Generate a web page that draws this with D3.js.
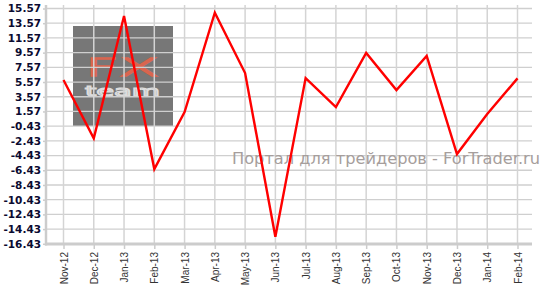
<!DOCTYPE html>
<html>
<head>
<meta charset="utf-8">
<script src="https://cdn.jsdelivr.net/npm/d3@7"></script>
<style>
  body { margin: 0; background: #fff; }
  svg { display: block; }
</style>
</head>
<body>
<div id="chart"></div>
<script>
const months = ["Nov-12", "Dec-12", "Jan-13", "Feb-13", "Mar-13", "Apr-13", "May-13", "Jun-13",
  "Jul-13", "Aug-13", "Sep-13", "Oct-13", "Nov-13", "Dec-13", "Jan-14", "Feb-14"];
const values = [5.84, -2.09, 14.55, -6.27, 1.49, 15.0, 6.79, -15.48,
  6.11, 2.17, 9.52, 4.48, 9.11, -4.23, 1.22, 6.07];
const yTicks = [15.57, 13.57, 11.57, 9.57, 7.57, 5.57, 3.57, 1.57, -0.43, -2.43,
  -4.43, -6.43, -8.43, -10.43, -12.43, -14.43, -16.43];

const width = 547, height = 296;
const plotLeft = 46, plotRight = 532, plotTop = 5, plotBottom = 244;

const svg = d3.select("#chart").append("svg")
  .attr("width", width)
  .attr("height", height);

const x = d3.scalePoint().domain(months).range([63.5, 517.5]);
const y = d3.scaleLinear().domain([-16.43, 15.57]).range([243.8, 8.5]);

// logo box behind the grid
const logo = svg.append("g").attr("class", "logo");
logo.append("rect")
  .attr("x", 73).attr("y", 26).attr("width", 100).attr("height", 100)
  .attr("fill", "#777");
logo.append("text")
  .attr("x", 85).attr("y", 76)
  .attr("textLength", 74).attr("lengthAdjust", "spacingAndGlyphs")
  .style("font-family", "DejaVu Sans").style("font-size", "24px").style("font-weight", "200")
  .attr("fill", "none").attr("stroke", "#d9654f").attr("stroke-width", 1.4)
  .text("FX");
logo.append("text")
  .attr("x", 85).attr("y", 96)
  .attr("textLength", 75).attr("lengthAdjust", "spacingAndGlyphs")
  .style("font-family", "DejaVu Sans").style("font-size", "14px")
  .attr("fill", "none").attr("stroke", "#ddd").attr("stroke-width", 1.1)
  .text("team");

// grid
svg.append("g")
  .selectAll("line")
  .data(yTicks)
  .join("line")
  .attr("x1", plotLeft).attr("x2", plotRight)
  .attr("y1", d => y(d)).attr("y2", d => y(d))
  .attr("stroke", "#cfcfcf").attr("stroke-width", 1.3);

svg.append("g")
  .selectAll("line")
  .data(months)
  .join("line")
  .attr("x1", d => x(d)).attr("x2", d => x(d))
  .attr("y1", plotTop).attr("y2", plotBottom)
  .attr("stroke", "#d4d4d4").attr("stroke-width", 1.5);

// watermark
svg.append("text")
  .attr("x", 232).attr("y", 164)
  .attr("textLength", 308).attr("lengthAdjust", "spacingAndGlyphs")
  .style("font-family", "DejaVu Sans").style("font-size", "16px")
  .attr("fill", "#a69e9c")
  .text("Портал для трейдеров - ForTrader.ru");

// axes
const yAxis = d3.axisLeft(y).tickValues(yTicks).tickSize(3).tickPadding(2)
  .tickFormat(d => d.toFixed(2));
const gy = svg.append("g").attr("transform", `translate(${plotLeft},0)`).call(yAxis);
gy.select(".domain").remove();
gy.selectAll(".tick line").attr("stroke", "#ccc").attr("stroke-width", 1.5);
gy.selectAll(".tick text")
  .style("font-family", "DejaVu Sans").style("font-size", "10.5px").style("font-weight", "bold")
  .attr("fill", "#0a0a30");

const xAxis = d3.axisBottom(x).tickSize(5).tickPadding(0);
const gx = svg.append("g").attr("transform", `translate(0,${plotBottom})`).call(xAxis);
gx.select(".domain").remove();
gx.selectAll(".tick line").attr("stroke", "#ccc").attr("stroke-width", 1.5);
gx.selectAll(".tick text")
  .attr("transform", "rotate(-90)")
  .attr("x", -8).attr("y", 0).attr("dy", "0.35em")
  .attr("text-anchor", "end")
  .style("font-family", "Liberation Sans").style("font-size", "10px")
  .attr("fill", "#333");

svg.append("line")
  .attr("x1", plotLeft).attr("x2", plotLeft).attr("y1", plotTop).attr("y2", plotBottom + 1.5)
  .attr("stroke", "#ccc").attr("stroke-width", 2.5);
svg.append("line")
  .attr("x1", plotLeft - 1).attr("x2", plotRight).attr("y1", plotBottom).attr("y2", plotBottom)
  .attr("stroke", "#ccc").attr("stroke-width", 2.8);

// series
const line = d3.line().x((d, i) => x(months[i])).y(d => y(d));
svg.append("path")
  .datum(values)
  .attr("d", line)
  .attr("fill", "none")
  .attr("stroke", "#ff0000")
  .attr("stroke-width", 2.4)
  .attr("stroke-linejoin", "miter");
</script>
</body>
</html>
